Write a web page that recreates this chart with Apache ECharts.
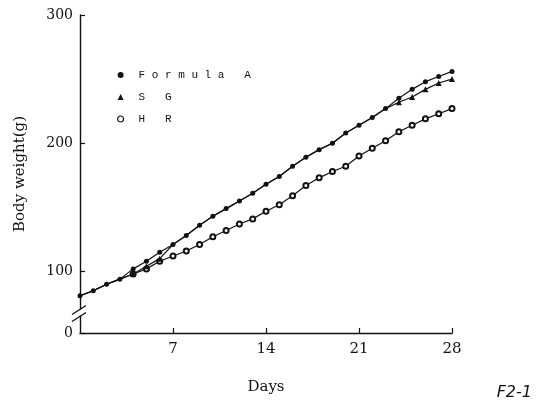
<!DOCTYPE html>
<html>
<head>
<meta charset="utf-8">
<script src="https://cdn.jsdelivr.net/npm/echarts@6/dist/echarts.min.js"></script>
<style>
  html, body { margin: 0; padding: 0; background: #fff; }
  #main { width: 536px; height: 403px; }
</style>
</head>
<body>
<div id="main"></div>
<script>
// days of the study
const days = [0, 1, 2, 3, 4, 5, 6, 7, 8, 9, 10, 11, 12, 13, 14, 15, 16, 17, 18, 19, 20, 21, 22, 23, 24, 25, 26, 27, 28]
// body weight (g)
const formulaA = [81, 85, 90, 94, 102, 108, 115, 121, 128, 136, 143, 149, 155, 161, 168, 174, 182, 189, 195, 200, 208, 214, 220, 227, 235, 242, 248, 252, 256]
const sg = [81, 85, 90, 94, 98, 104, 110, 121, 128, 136, 143, 149, 155, 161, 168, 174, 182, 189, 195, 200, 208, 214, 220, 227, 232, 236, 242, 247, 250]
const hr = [81, 85, 90, 94, 98, 102, 108, 112, 116, 121, 127, 132, 137, 141, 147, 152, 159, 167, 173, 178, 182, 190, 196, 202, 209, 214, 219, 223, 227]
const xTicks = [7, 14, 21, 28]
const yTicks = [52, 100, 200, 300]   // 52 sits just under the axis break and is labelled 0
const breakAt = 68

const ink = '#111'

// where a group sits exactly on Formula A only the filled dot shows, like the print
const toPoints = vals => days.map((d, i) => {
  const p = { value: [d, vals[i]] }
  if (vals !== formulaA && vals[i] === formulaA[i]) p.symbol = 'none'
  return p
})

const chart = echarts.init(document.getElementById('main'))

function lineSeries(name, vals, symbol, size, z) {
  return {
    name: name,
    type: 'line',
    data: toPoints(vals),
    symbol: symbol,
    symbolSize: size,
    showSymbol: true,
    z: z,
    lineStyle: { color: ink, width: 1.2 },
    itemStyle: { color: ink, borderWidth: 1 },
    animation: false
  }
}

chart.setOption({
  backgroundColor: '#fff',
  animation: false,
  grid: { left: 80, right: 84, top: 15, bottom: 70 },
  legend: {
    orient: 'vertical',
    left: 112,
    top: 64,
    itemWidth: 6,
    itemHeight: 6,
    itemGap: 10,
    textStyle: { fontFamily: 'Liberation Mono', fontSize: 11, color: ink, lineHeight: 12, padding: [0, 0, 0, 10] },
    formatter: name => name.split('').join(' '),
    data: [
      { name: 'Formula A', icon: 'circle', itemStyle: { color: ink } },
      { name: 'S G', icon: 'triangle', itemStyle: { color: ink } },
      { name: 'H R', icon: 'circle', itemStyle: { color: '#fff', borderColor: ink, borderWidth: 1.2 } }
    ]
  },
  xAxis: {
    type: 'value',
    min: 0,
    max: 28,
    interval: 7,
    name: 'Days',
    nameLocation: 'middle',
    nameGap: 47,
    nameTextStyle: { fontFamily: 'DejaVu Serif', fontSize: 15, color: ink },
    axisLine: { lineStyle: { color: ink, width: 1.4 } },
    axisTick: { inside: true, length: 5, customValues: xTicks, lineStyle: { color: ink, width: 1.2 } },
    axisLabel: { customValues: xTicks, fontFamily: 'DejaVu Serif', fontSize: 15, color: ink, margin: 9 },
    splitLine: { show: false }
  },
  yAxis: {
    type: 'value',
    min: 52,
    max: 300,
    name: 'Body weight(g)',
    nameLocation: 'middle',
    nameGap: 52,
    nameTextStyle: { fontFamily: 'DejaVu Serif', fontSize: 15, color: ink },
    axisLine: { show: true, lineStyle: { color: ink, width: 1.4 } },
    axisTick: { show: true, inside: true, length: 5, customValues: yTicks, lineStyle: { color: ink, width: 1.2 } },
    axisLabel: {
      customValues: yTicks,
      formatter: v => (v === 52 ? '0' : String(v)),
      fontFamily: 'DejaVu Serif', fontSize: 14, color: ink, margin: 7
    },
    splitLine: { show: false }
  },
  series: [
    lineSeries('H R', hr, 'emptyCircle', 5, 2),
    lineSeries('S G', sg, 'triangle', 6, 3),
    lineSeries('Formula A', formulaA, 'circle', 5, 4)
  ]
})

// axis break marks and the figure tag
const bx = chart.convertToPixel({ xAxisIndex: 0 }, 0)
const by = chart.convertToPixel({ yAxisIndex: 0 }, breakAt)
chart.setOption({
  graphic: [
    { type: 'rect', shape: { x: bx - 3, y: by - 3, width: 6, height: 6 }, style: { fill: '#fff' }, z: 100 },
    { type: 'line', shape: { x1: bx - 8, y1: by + 2, x2: bx + 6, y2: by - 7 }, style: { stroke: ink, lineWidth: 1.3 }, z: 101 },
    { type: 'line', shape: { x1: bx - 8, y1: by + 9, x2: bx + 6, y2: by }, style: { stroke: ink, lineWidth: 1.3 }, z: 101 },
    { type: 'text', right: 4, bottom: 2, style: { text: 'F2-1', fontFamily: 'DejaVu Sans', fontStyle: 'italic', fontSize: 16, fill: ink } }
  ]
})
</script>
</body>
</html>
